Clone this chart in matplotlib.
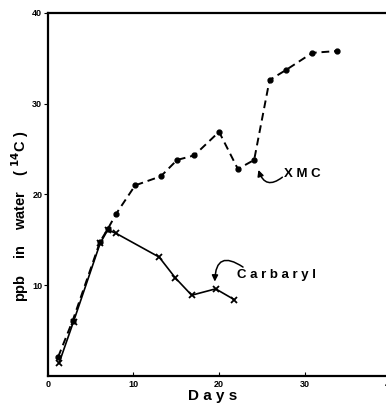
import numpy as np
import matplotlib
matplotlib.use("Agg")
import matplotlib.pyplot as plt

# data
xmc_days = [1.2, 2.9, 6.1, 7.0, 8.0, 10.2, 13.2, 15.1, 17.1, 20.0, 22.2, 24.1, 25.9, 27.8, 30.9, 33.8]
xmc_ppb = [2.1, 6.1, 14.8, 16.2, 17.9, 21.0, 22.0, 23.8, 24.3, 26.9, 22.8, 23.8, 32.6, 33.7, 35.6, 35.8]

carb_days = [1.3, 3.0, 6.1, 7.0, 8.0, 13.0, 14.9, 16.8, 19.6, 21.8]
carb_ppb = [1.4, 6.0, 14.6, 16.1, 15.7, 13.1, 10.8, 8.9, 9.6, 8.4]

plt.rcParams['font.family'] = ['Liberation Sans', 'DejaVu Sans']
plt.rcParams['font.weight'] = 'bold'

fig = plt.figure(figsize=(3.86, 4.03), dpi=100)
ax = fig.add_axes([0.124, 0.067, 0.887, 0.901])

ax.plot(xmc_days, xmc_ppb, color='black', linestyle=(0, (4, 2.5)), linewidth=1.4,
        marker='o', markersize=3.5)
ax.plot(carb_days, carb_ppb, color='black', linestyle='-', linewidth=1.2,
        marker='x', markersize=4.5, markeredgewidth=1.3)

ax.set_xlim(0, 40)
ax.set_ylim(0, 40)
ax.set_xticks([0, 10, 20, 30, 40])
ax.set_yticks([10, 20, 30, 40])
ax.tick_params(axis='x', direction='in', length=3, labelsize=6.5, pad=3)
ax.tick_params(axis='y', direction='out', length=3, labelsize=6.5, pad=1)
for lab in ax.get_xticklabels() + ax.get_yticklabels():
    lab.set_fontweight('bold')
for s in ax.spines.values():
    s.set_linewidth(1.6)

ax.set_xlabel('D a y s', fontsize=11, fontweight='bold')
ax.xaxis.set_label_coords(0.482, -0.035)
ax.set_ylabel('ppb    in    water    ( $^{14}$C )', fontsize=10.5, fontweight='bold')
ax.yaxis.set_label_coords(-0.048, 0.44)

# labels and curved arrows
ax.text(27.6, 22.2, 'X M C', fontsize=9.5, fontweight='bold', va='center', ha='left')
ax.annotate('', xy=(24.6, 22.7), xytext=(27.4, 21.9),
            arrowprops=dict(arrowstyle='-|>', color='black', lw=1.1,
                            connectionstyle='arc3,rad=-0.7', shrinkA=0, shrinkB=0,
                            mutation_scale=9))
ax.text(22.1, 11.1, 'C a r b a r y l', fontsize=9.5, fontweight='bold', va='center', ha='left')
ax.annotate('', xy=(19.5, 10.4), xytext=(22.8, 12.0),
            arrowprops=dict(arrowstyle='-|>', color='black', lw=1.1,
                            connectionstyle='arc3,rad=0.9', shrinkA=0, shrinkB=0,
                            mutation_scale=9))

fig.savefig('out.png', dpi=100)
